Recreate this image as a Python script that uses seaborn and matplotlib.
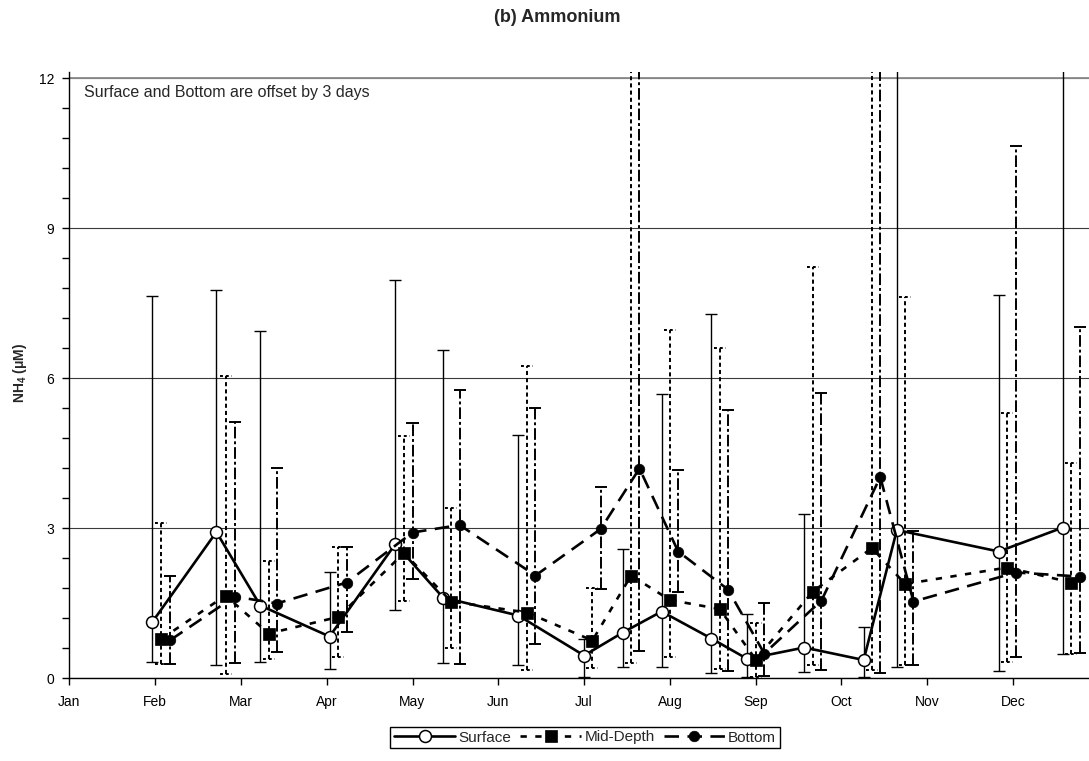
import numpy as np
import pandas as pd
import matplotlib
matplotlib.use("Agg")
import matplotlib.pyplot as plt
from matplotlib.ticker import MultipleLocator
import seaborn as sns

# ---- data -------------------------------------------------------------
months = ["Jan", "Feb", "Mar", "Apr", "May", "Jun",
          "Jul", "Aug", "Sep", "Oct", "Nov", "Dec"]

# Mid-depth sampling dates; Surface is shifted 3 days earlier, Bottom 3 days later
sample_dates = ["2003-02-03", "2003-02-24", "2003-03-11", "2003-04-05",
                "2003-04-28", "2003-05-15", "2003-06-11", "2003-07-04",
                "2003-07-18", "2003-08-01", "2003-08-19", "2003-09-01",
                "2003-09-21", "2003-10-12", "2003-10-24", "2003-11-29",
                "2003-12-22"]
offset_days = 3

surface_mean = [1.12, 2.92, 1.45, 0.83, 2.68, 1.61, 1.25, 0.45, 0.91,
                1.33, 0.79, 0.38, 0.61, 0.36, 2.96, 2.53, 3.01]
surface_min = [0.33, 0.26, 0.33, 0.19, 1.37, 0.30, 0.27, 0.02, 0.22,
               0.23, 0.10, 0.03, 0.13, 0.03, 0.22, 0.15, 0.49]
surface_max = [7.65, 7.77, 6.94, 2.12, 7.96, 6.56, 4.86, 0.78, 2.59,
               5.69, 7.29, 1.29, 3.28, 1.02, 14.0, 7.67, 14.0]

mid_mean = [0.78, 1.65, 0.89, 1.22, 2.50, 1.53, 1.31, 0.75, 2.05,
            1.56, 1.38, 0.37, 1.73, 2.60, 1.88, 2.21, 1.91]
mid_min = [0.28, 0.08, 0.39, 0.43, 1.55, 0.60, 0.17, 0.20, 0.31,
           0.43, 0.18, 0.02, 0.27, 0.17, 0.27, 0.33, 0.49]
mid_max = [3.10, 6.04, 2.34, 2.63, 4.84, 3.41, 6.24, 1.80, 14.0,
           6.96, 6.60, 1.10, 8.22, 14.0, 7.62, 5.30, 4.31]

bottom_mean = [0.76, 1.63, 1.49, 1.91, 2.91, 3.06, 2.05, 2.98, 4.19,
               2.53, 1.77, 0.49, 1.55, 4.02, 1.53, 2.11, 2.03]
bottom_min = [0.28, 0.31, 0.53, 0.93, 1.98, 0.28, 0.69, 1.79, 0.55,
              1.73, 0.15, 0.05, 0.17, 0.11, 0.27, 0.43, 0.50]
bottom_max = [2.04, 5.12, 4.20, 2.63, 5.10, 5.76, 5.41, 3.83, 14.0,
              4.16, 5.37, 1.51, 5.71, 14.0, 2.94, 10.64, 7.02]


def month_position(dates):
    """Fractional month position (Jan 1 = 0, Feb 1 = 1, ...)."""
    d = pd.DatetimeIndex(dates)
    return np.asarray((d.month - 1) + (d.day - 1) / d.days_in_month, dtype=float)


mid_dates = pd.to_datetime(sample_dates)
shift = pd.Timedelta(days=offset_days)
x_surface = month_position(mid_dates - shift)
x_mid = month_position(mid_dates)
x_bottom = month_position(mid_dates + shift)

frames = []
for name, xs, ys in [("Surface", x_surface, surface_mean),
                     ("Mid-Depth", x_mid, mid_mean),
                     ("Bottom", x_bottom, bottom_mean)]:
    frames.append(pd.DataFrame({"month": xs, "nh4": ys, "depth": name}))
df = pd.concat(frames, ignore_index=True)

# ---- style ------------------------------------------------------------
sns.set_style("ticks")
plt.rcParams["font.family"] = ["Liberation Sans", "DejaVu Sans"]
plt.rcParams["mathtext.fontset"] = "custom"
plt.rcParams["mathtext.rm"] = "Liberation Sans"
plt.rcParams["mathtext.bf"] = "Liberation Sans:bold"

W, H = 1089, 761
fig = plt.figure(figsize=(W / 100, H / 100), dpi=100)
ax = fig.add_axes([69.3 / W, 83 / H, (W - 69.3) / W, 606 / H])

cap = 0.07  # half-width of the range caps, in months


def draw_ranges(x, lo, hi, style, cap_style, lw):
    x = np.asarray(x)
    ax.vlines(x, lo, hi, colors="black", linestyles=style, linewidth=lw, zorder=2)
    ax.hlines(hi, x - cap, x + cap, colors="black", linestyles=cap_style,
              linewidth=lw, zorder=2)
    ax.hlines(lo, x - cap, x + cap, colors="black", linestyles=cap_style,
              linewidth=lw, zorder=2)


draw_ranges(x_surface, surface_min, surface_max, "solid", "solid", 1.0)
draw_ranges(x_mid, mid_min, mid_max, (0, (2.1, 1.6)), (0, (1.5, 1.5)), 1.4)
draw_ranges(x_bottom, bottom_min, bottom_max, (0, (6, 1.5, 1.5, 1.5)), "solid", 1.4)

# mean lines
sns.lineplot(data=df[df.depth == "Surface"], x="month", y="nh4", ax=ax,
             color="black", linewidth=1.9, marker="o", markersize=8.6,
             markerfacecolor="white", markeredgecolor="black",
             markeredgewidth=1.1, estimator=None, sort=False, legend=False,
             label="Surface", zorder=4)
sns.lineplot(data=df[df.depth == "Mid-Depth"], x="month", y="nh4", ax=ax,
             color="black", linewidth=1.9, linestyle=(0, (2.4, 3.2)),
             marker="s", markersize=8.4, markerfacecolor="black",
             markeredgecolor="black", markeredgewidth=0.5, estimator=None,
             sort=False, legend=False, label="Mid-Depth", zorder=5)
sns.lineplot(data=df[df.depth == "Bottom"], x="month", y="nh4", ax=ax,
             color="black", linewidth=1.9, linestyle=(0, (5.5, 3.2)),
             marker="o", markersize=7.6, markerfacecolor="black",
             markeredgecolor="black", markeredgewidth=0.5, estimator=None,
             sort=False, legend=False, label="Bottom", zorder=6)

# ---- axes -------------------------------------------------------------
ax.set_xlim(0, (W - 69.3) / 85.8)
ax.set_ylim(0, 12.12)
ax.set_xticks(range(len(months)))
ax.set_xticklabels(months)
ax.set_yticks([0, 3, 6, 9, 12])
ax.yaxis.set_minor_locator(MultipleLocator(0.6))
ax.set_xlabel("")
ax.set_ylabel("")

ax.grid(axis="y", which="major", color="#3a3a3a", linewidth=0.8)
ax.axhline(12, color="#8c8c8c", linewidth=1.3, zorder=1)
ax.set_axisbelow(True)

for side in ["top", "right"]:
    ax.spines[side].set_visible(False)
for side in ["left", "bottom"]:
    ax.spines[side].set_color("black")
    ax.spines[side].set_linewidth(1.0)

ax.tick_params(axis="both", which="both", direction="out", color="black",
               width=1.0, labelsize=10, labelcolor="black")
ax.tick_params(axis="y", which="major", length=5, pad=6)
ax.tick_params(axis="y", which="minor", length=5)
ax.tick_params(axis="x", which="major", length=5, pad=7)

# ---- text -------------------------------------------------------------
fig.text(557 / W, 1 - 17 / H, "(b) Ammonium", ha="center", va="center",
         fontsize=13, fontweight="bold")
fig.text(20 / W, 1 - 373 / H, r"NH$_\mathbf{4}$ (μM)", rotation=90,
         ha="center", va="center", fontsize=10, fontweight="bold")
fig.text(84 / W, 1 - 93 / H, "Surface and Bottom are offset by 3 days",
         ha="left", va="center", fontsize=11.5)

handles, labels = ax.get_legend_handles_labels()
leg = fig.legend(handles, labels, loc="center",
                 bbox_to_anchor=(585 / W, 1 - 737.5 / H), ncol=3,
                 frameon=True, fancybox=False, edgecolor="black",
                 framealpha=1, handlelength=4.0, handletextpad=0.2,
                 columnspacing=0.6, borderpad=0.25, fontsize=11,
                 borderaxespad=0)
leg.get_frame().set_linewidth(1.0)

fig.savefig("out.png", dpi=100)
